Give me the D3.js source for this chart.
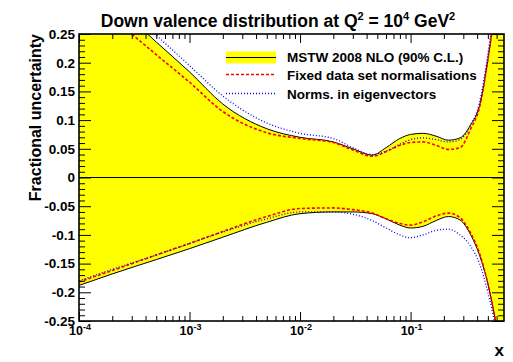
<!DOCTYPE html>
<html><head><meta charset="utf-8">
<script src="https://cdn.jsdelivr.net/npm/d3@7"></script>
<style>
body{margin:0;background:#fff;}
svg{display:block;font-family:"Liberation Sans",Arial,Helvetica,sans-serif;font-weight:bold;}
</style></head>
<body><svg id="c" width="513" height="362"></svg>
<script>
const xVals   = [1e-4, 2e-4, 5e-4, 1e-3, 2e-3, 5e-3, 1e-2, 2e-2, 3e-2, 4.5e-2, 6e-2, 8e-2, 0.1, 0.13, 0.17, 0.22, 0.28, 0.35, 0.42, 0.5, 0.6, 0.7];
const mstwUp  = [0.36, 0.307, 0.236, 0.184, 0.128, 0.085, 0.070, 0.062, 0.050, 0.039, 0.052, 0.068, 0.075, 0.077, 0.072, 0.065, 0.069, 0.092, 0.125, 0.205, 0.32, 0.45];
const mstwLo  = [-0.188, -0.168, -0.143, -0.124, -0.104, -0.078, -0.063, -0.060, -0.060, -0.063, -0.072, -0.083, -0.088, -0.085, -0.075, -0.068, -0.074, -0.100, -0.135, -0.185, -0.26, -0.34];
const fixedUp = [0.33, 0.279, 0.214, 0.166, 0.115, 0.078, 0.068, 0.061, 0.048, 0.037, 0.045, 0.056, 0.061, 0.062, 0.056, 0.049, 0.052, 0.085, 0.122, 0.205, 0.32, 0.45];
const fixedLo = [-0.182, -0.162, -0.135, -0.115, -0.094, -0.068, -0.054, -0.053, -0.056, -0.062, -0.072, -0.080, -0.083, -0.077, -0.067, -0.062, -0.070, -0.097, -0.132, -0.185, -0.26, -0.34];
const eigUp   = [0.37, 0.319, 0.248, 0.195, 0.142, 0.095, 0.077, 0.068, 0.052, 0.040, 0.046, 0.058, 0.066, 0.069, 0.066, 0.062, 0.066, 0.092, 0.130, 0.215, 0.33, 0.46];
const eigLo   = [-0.18, -0.16, -0.135, -0.115, -0.095, -0.072, -0.060, -0.060, -0.064, -0.075, -0.088, -0.100, -0.105, -0.100, -0.092, -0.090, -0.100, -0.120, -0.150, -0.200, -0.27, -0.35];
const yTicks  = [-0.25, -0.2, -0.15, -0.1, -0.05, 0, 0.05, 0.1, 0.15, 0.2, 0.25];
const yTickLabels = ["-0.25","-0.2","-0.15","-0.1","-0.05","0","0.05","0.1","0.15","0.2","0.25"];
const xMajor  = [1e-4, 1e-3, 1e-2, 1e-1];
const xMajorExp = ["-4","-3","-2","-1"];
const legendLabels = ["MSTW 2008 NLO (90% C.L.)", "Fixed data set normalisations", "Norms. in eigenvectors"];

const svg = d3.select("#c");
const L = 79, R = 504, T = 34, B = 321;
const x = d3.scaleLog().domain([1e-4, 0.7]).range([L, R]);
const y = d3.scaleLinear().domain([-0.25, 0.25]).range([B, T]);

svg.append("defs").append("clipPath").attr("id","clip")
  .append("rect").attr("x",L).attr("y",T).attr("width",R-L).attr("height",B-T);
const g = svg.append("g").attr("clip-path","url(#clip)");

const idx = d3.range(xVals.length);
const curve = d3.curveMonotoneX;
g.append("path").datum(idx)
  .attr("d", d3.area().x(i=>x(xVals[i])).y0(i=>y(mstwLo[i])).y1(i=>y(mstwUp[i])).curve(curve))
  .attr("fill","#ffff00");

const line = arr => d3.line().x(i=>x(xVals[i])).y(i=>y(arr[i])).curve(curve);
g.append("line").attr("x1",L).attr("x2",R).attr("y1",y(0)).attr("y2",y(0)).attr("stroke","#000").attr("stroke-width",1);

[[mstwUp,"#000",null,1],[mstwLo,"#000",null,1],
 [fixedUp,"#ff0000","3,2",1.6],[fixedLo,"#ff0000","3,2",1.6],
 [eigUp,"#0000ff","1,2",1.3],[eigLo,"#0000ff","1,2",1.3]].forEach(([arr,col,dash,w])=>{
  g.append("path").datum(idx).attr("d",line(arr)).attr("fill","none")
   .attr("stroke",col).attr("stroke-width",w).attr("stroke-dasharray",dash);
});

const xMinor = [];
for (let e=-4; e<=-1; e++) for (let m=2; m<=9; m++){ const v=m*Math.pow(10,e); if (v<=0.7) xMinor.push(v); }
const yMinor = d3.range(-25,26).filter(k=>k%5!==0).map(k=>k/100);

function strip(sel){ sel.select(".domain").remove(); sel.selectAll("line").attr("stroke","#000").attr("stroke-width",1); }
svg.append("g").attr("transform",`translate(0,${B})`).call(d3.axisBottom(x).tickValues(xMajor).tickSize(-9).tickFormat("")).call(strip);
svg.append("g").attr("transform",`translate(0,${B})`).call(d3.axisBottom(x).tickValues(xMinor).tickSize(-5).tickFormat("")).call(strip);
svg.append("g").attr("transform",`translate(0,${T})`).call(d3.axisTop(x).tickValues(xMajor).tickSize(-9).tickFormat("")).call(strip);
svg.append("g").attr("transform",`translate(0,${T})`).call(d3.axisTop(x).tickValues(xMinor).tickSize(-5).tickFormat("")).call(strip);
const yl = svg.append("g").attr("transform",`translate(${L},0)`)
  .call(d3.axisLeft(y).tickValues(yTicks).tickSize(-12).tickPadding(4).tickFormat((d,i)=>yTickLabels[i])).call(strip);
yl.selectAll("text").attr("font-size",13.5).attr("font-weight","bold").attr("fill","#000").attr("font-family","Liberation Sans, Arial, sans-serif");
svg.append("g").attr("transform",`translate(${L},0)`).call(d3.axisLeft(y).tickValues(yMinor).tickSize(-6).tickFormat("")).call(strip);
svg.append("g").attr("transform",`translate(${R},0)`).call(d3.axisRight(y).tickValues(yTicks).tickSize(-12).tickFormat("")).call(strip);
svg.append("g").attr("transform",`translate(${R},0)`).call(d3.axisRight(y).tickValues(yMinor).tickSize(-6).tickFormat("")).call(strip);

xMajor.forEach((v,i)=>{
  const t = svg.append("text").attr("x",x(v)+1).attr("y",B+14).attr("text-anchor","middle").attr("font-size",12.5);
  t.append("tspan").text("10");
  t.append("tspan").attr("dy",-5).attr("font-size",9).text(xMajorExp[i]);
});

svg.append("rect").attr("x",L).attr("y",T).attr("width",R-L).attr("height",B-T)
  .attr("fill","none").attr("stroke","#000").attr("stroke-width",1.6);

const title = svg.append("text").attr("x",278).attr("y",27).attr("text-anchor","middle").attr("font-size",17.5);
title.append("tspan").text("Down valence distribution at Q");
title.append("tspan").attr("dy",-7).attr("font-size",11).text("2");
title.append("tspan").attr("dy",7).text(" = 10");
title.append("tspan").attr("dy",-7).attr("font-size",11).text("4");
title.append("tspan").attr("dy",7).text(" GeV");
title.append("tspan").attr("dy",-7).attr("font-size",11).text("2");

svg.append("text").attr("transform",`translate(41,${T}) rotate(-90)`).attr("text-anchor","end")
  .attr("font-size",16).text("Fractional uncertainty");
svg.append("text").attr("x",R).attr("y",356).attr("text-anchor","end").attr("font-size",17).text("x");

const lg = svg.append("g");
lg.append("rect").attr("x",226).attr("y",51.5).attr("width",50).attr("height",12).attr("fill","#ffff00");
lg.append("line").attr("x1",226).attr("x2",276).attr("y1",57.5).attr("y2",57.5).attr("stroke","#000").attr("stroke-width",1.2);
lg.append("line").attr("x1",226).attr("x2",276).attr("y1",74.5).attr("y2",74.5).attr("stroke","#ff0000").attr("stroke-width",1.6).attr("stroke-dasharray","3,2");
lg.append("line").attr("x1",226).attr("x2",276).attr("y1",93.5).attr("y2",93.5).attr("stroke","#0000ff").attr("stroke-width",1.3).attr("stroke-dasharray","1,2");
[62,80,99].forEach((yy,i)=>lg.append("text").attr("x",287).attr("y",yy).attr("font-size",13.5).text(legendLabels[i]));
</script></body></html>
